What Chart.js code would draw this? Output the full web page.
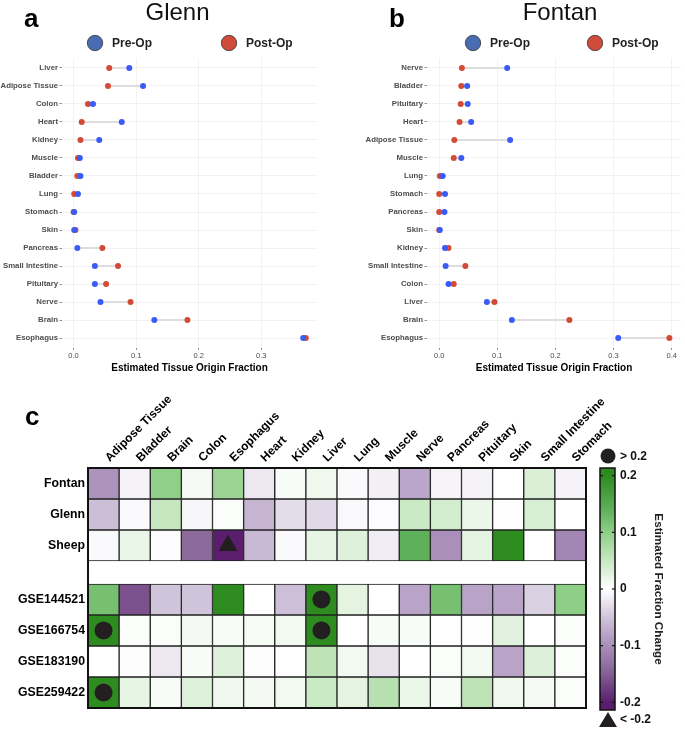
<!DOCTYPE html>
<html>
<head>
<meta charset="utf-8">
<script src="https://cdn.jsdelivr.net/npm/chart.js@4.4.1/dist/chart.umd.min.js"></script>
<style>
  html, body { margin: 0; padding: 0; background: #fff; }
  #wrap { position: relative; width: 685px; height: 729px; }
  canvas { position: absolute; }
</style>
</head>
<body>
<div id="wrap">
  <canvas id="glennChart" width="340" height="380" style="left:0;top:0"></canvas>
  <canvas id="fontanChart" width="345" height="380" style="left:340px;top:0"></canvas>
  <canvas id="heatChart" width="685" height="349" style="left:0;top:380px"></canvas>
</div>
<script>
// ---- data: panel a (Glenn) ----
const glennTissues = ['Liver', 'Adipose Tissue', 'Colon', 'Heart', 'Kidney', 'Muscle', 'Bladder', 'Lung',
  'Stomach', 'Skin', 'Pancreas', 'Small Intestine', 'Pituitary', 'Nerve', 'Brain', 'Esophagus'];
const glennPre  = [0.089, 0.111, 0.031, 0.077, 0.041, 0.010, 0.011, 0.007, 0.001, 0.001, 0.006, 0.034, 0.034, 0.043, 0.129, 0.367];
const glennPost = [0.057, 0.055, 0.023, 0.013, 0.011, 0.007, 0.006, 0.001, 0.000, 0.003, 0.046, 0.071, 0.052, 0.091, 0.182, 0.371];
const glennTicks = [0, 0.1, 0.2, 0.3];

// ---- data: panel b (Fontan) ----
const fontanTissues = ['Nerve', 'Bladder', 'Pituitary', 'Heart', 'Adipose Tissue', 'Muscle', 'Lung', 'Stomach',
  'Pancreas', 'Skin', 'Kidney', 'Small Intestine', 'Colon', 'Liver', 'Brain', 'Esophagus'];
const fontanPre  = [0.117, 0.048, 0.049, 0.055, 0.122, 0.038, 0.006, 0.010, 0.009, 0.001, 0.010, 0.011, 0.016, 0.082, 0.125, 0.308];
const fontanPost = [0.039, 0.038, 0.037, 0.035, 0.026, 0.025, 0.001, 0.000, 0.000, 0.000, 0.016, 0.045, 0.025, 0.095, 0.224, 0.396];
const fontanTicks = [0, 0.1, 0.2, 0.3, 0.4];

// ---- data: panel c (heatmap of fraction change) ----
const heatTissues = ['Adipose Tissue', 'Bladder', 'Brain', 'Colon', 'Esophagus', 'Heart', 'Kidney', 'Liver',
  'Lung', 'Muscle', 'Nerve', 'Pancreas', 'Pituitary', 'Skin', 'Small Intestine', 'Stomach'];
const heatRows = ['Fontan', 'Glenn', 'Sheep', 'GSE144521', 'GSE166754', 'GSE183190', 'GSE259422'];
const fontanChange = [-0.096, -0.010, 0.099, 0.009, 0.088, -0.020, 0.006, 0.013, -0.005, -0.013, -0.078, -0.009, -0.011, 0.000, 0.034, -0.010];
const glennChange  = [-0.056, -0.005, 0.053, -0.008, 0.004, -0.064, -0.030, -0.032, -0.006, -0.003, 0.048, 0.040, 0.018, 0.002, 0.037, 0.000];
const sheepChange  = [-0.005, 0.020, -0.003, -0.140, -0.250, -0.060, -0.005, 0.022, 0.030, -0.015, 0.140, -0.100, 0.025, 0.200, 0.000, -0.110];
const gse144521 = [0.120, -0.160, -0.050, -0.050, 0.200, 0.000, -0.055, 0.250, 0.025, 0.000, -0.080, 0.120, -0.080, -0.080, -0.040, 0.100];
const gse166754 = [0.250, 0.005, 0.005, 0.010, 0.007, 0.008, 0.012, 0.250, 0.000, 0.006, 0.006, 0.000, 0.002, 0.028, 0.000, 0.005];
const gse183190 = [0.000, -0.002, -0.020, 0.007, 0.030, -0.002, 0.000, 0.060, 0.012, -0.025, 0.000, 0.005, 0.012, -0.080, 0.032, 0.005];
const gse259422 = [0.250, 0.022, 0.007, 0.030, 0.014, 0.010, 0.012, 0.048, 0.025, 0.065, 0.018, 0.006, 0.060, 0.014, 0.009, 0.004];
const heatValues = [fontanChange, glennChange, sheepChange, gse144521, gse166754, gse183190, gse259422];
const colorbarTicks = [0.2, 0.1, 0, -0.1, -0.2];

const FONT = "'Liberation Sans', Arial, Helvetica, sans-serif";
Chart.defaults.font.family = FONT;

const BLUE = '#3a5cf5';
const RED = '#d34b36';

// colour scale (green-white-purple)
const colorStops = [
  [-0.2, [91, 30, 111]], [-0.14, [140, 106, 156]], [-0.1, [169, 143, 186]], [-0.05, [208, 196, 218]],
  [0, [255, 255, 255]], [0.05, [200, 232, 195]], [0.1, [143, 206, 135]], [0.14, [95, 176, 90]], [0.2, [46, 139, 32]]
];
function colorFor(v) {
  v = Math.max(-0.2, Math.min(0.2, v));
  for (let i = 0; i < colorStops.length - 1; i++) {
    const [a, ca] = colorStops[i], [b, cb] = colorStops[i + 1];
    if (v >= a && v <= b) {
      const t = (v - a) / (b - a);
      const c = ca.map((x, k) => Math.round(x + (cb[k] - x) * t));
      return `rgb(${c[0]},${c[1]},${c[2]})`;
    }
  }
  return '#fff';
}

// titles, panel letters and legend for the dot plots
function makeDecor(cfg) {
  return {
    id: 'decor',
    afterDraw(chart) {
      const ctx = chart.ctx;
      ctx.save();
      ctx.fillStyle = '#000';
      ctx.textBaseline = 'alphabetic';
      ctx.font = `bold 26px ${FONT}`;
      ctx.textAlign = 'left';
      ctx.fillText(cfg.letter, cfg.letterX, cfg.letterY);
      if (cfg.title) {
        ctx.font = `24px ${FONT}`;
        ctx.textAlign = 'center';
        ctx.fillStyle = '#111';
        ctx.fillText(cfg.title, cfg.titleX, 20);
      }
      if (cfg.legend) {
        cfg.legend.forEach(it => {
          ctx.beginPath();
          ctx.arc(it.x, 43, 7.7, 0, Math.PI * 2);
          ctx.fillStyle = it.fill;
          ctx.fill();
          ctx.lineWidth = 0.8;
          ctx.strokeStyle = '#333';
          ctx.stroke();
          ctx.fillStyle = '#222';
          ctx.font = `bold 12px ${FONT}`;
          ctx.textAlign = 'left';
          ctx.textBaseline = 'middle';
          ctx.fillText(it.text, it.x + 17, 43.5);
        });
      }
      ctx.restore();
    }
  };
}

function dotChart(id, tissues, pre, post, xMin, xMax, xTicks, yWidth, padRight, decor) {
  const segs = tissues.map((t, i) => ({
    type: 'line',
    data: [{ x: pre[i], y: i }, { x: post[i], y: i }],
    borderColor: '#dddddd', borderWidth: 2, pointRadius: 0, order: 3
  }));
  return new Chart(document.getElementById(id), {
    type: 'scatter',
    data: {
      datasets: [
        ...segs,
        { label: 'Post-Op', data: post.map((v, i) => ({ x: v, y: i })), backgroundColor: RED, borderWidth: 0, pointRadius: 3, order: 2 },
        { label: 'Pre-Op', data: pre.map((v, i) => ({ x: v, y: i })), backgroundColor: BLUE, borderWidth: 0, pointRadius: 3, order: 1 }
      ]
    },
    options: {
      responsive: false, animation: false, devicePixelRatio: 1,
      layout: { padding: { top: 58, right: padRight, bottom: 0, left: 0 } },
      plugins: { legend: { display: false }, tooltip: { enabled: false } },
      scales: {
        x: {
          type: 'linear', min: xMin, max: xMax,
          afterBuildTicks: s => { s.ticks = xTicks.map(v => ({ value: v })); },
          ticks: { callback: v => v.toFixed(1), font: { size: 7.5 }, color: '#4d4d4d', padding: 1 },
          grid: { color: '#efefef', lineWidth: 0.8, tickColor: '#777', tickLength: 2 },
          border: { display: false },
          title: { display: true, text: 'Estimated Tissue Origin Fraction', color: '#000',
                   font: { size: 10, weight: 'bold' }, padding: { top: 0, bottom: 6 } },
          afterFit: s => { s.height = 32; }
        },
        y: {
          type: 'linear', reverse: true, min: -0.55, max: tissues.length - 0.45,
          afterBuildTicks: s => { s.ticks = tissues.map((t, i) => ({ value: i })); },
          ticks: { callback: v => tissues[v], font: { size: 7.8, weight: 'bold' }, color: '#4d4d4d', padding: 1.5 },
          grid: { color: '#efefef', lineWidth: 0.8, tickColor: '#777', tickLength: 2.5 },
          border: { display: false },
          afterFit: s => { s.width = yWidth; }
        }
      }
    },
    plugins: [makeDecor(decor)]
  });
}

dotChart('glennChart', glennTissues, glennPre, glennPost, -0.0185, 0.389, glennTicks, 62, 23, {
  letter: 'a', letterX: 24, letterY: 27, title: 'Glenn', titleX: 177.5,
  legend: [{ x: 95, text: 'Pre-Op', fill: '#4a6cb3' }, { x: 229, text: 'Post-Op', fill: '#cf4b3b' }]
});
dotChart('fontanChart', fontanTissues, fontanPre, fontanPost, -0.021, 0.416, fontanTicks, 87, 1, {
  letter: 'b', letterX: 49, letterY: 27, title: 'Fontan', titleX: 220,
  legend: [{ x: 133, text: 'Pre-Op', fill: '#4a6cb3' }, { x: 255, text: 'Post-Op', fill: '#cf4b3b' }]
});

// ---- heatmap ----
const GAP = 0.74;
const rowStart = heatRows.map((r, i) => i < 3 ? i : i + GAP);
const rowMid = rowStart.map(v => v + 0.5);

const bars = heatRows.map((r, ri) => ({
  type: 'bar', label: r,
  data: heatTissues.map(() => [rowStart[ri], rowStart[ri] + 1]),
  backgroundColor: heatValues[ri].map(colorFor),
  borderColor: '#222', borderWidth: 1, borderSkipped: false,
  grouped: false, barPercentage: 1, categoryPercentage: 1, order: 2
}));
const highPts = [], lowPts = [];
heatValues.forEach((vals, ri) => vals.forEach((v, ci) => {
  if (v > 0.2) highPts.push({ x: heatTissues[ci], y: rowMid[ri] });
  if (v < -0.2) lowPts.push({ x: heatTissues[ci], y: rowMid[ri] });
}));

const CB = { x: 600, w: 15, top: 88, bottom: 330, vTop: 0.2135, vBottom: -0.2135 };
const cbY = v => CB.top + (CB.vTop - v) / (CB.vTop - CB.vBottom) * (CB.bottom - CB.top);

const heatDecor = {
  id: 'heatDecor',
  afterDraw(chart) {
    const ctx = chart.ctx, a = chart.chartArea;
    ctx.save();
    // outer frame
    ctx.strokeStyle = '#111';
    ctx.lineWidth = 2;
    ctx.strokeRect(a.left, a.top, a.right - a.left, a.bottom - a.top);
    // panel letter
    ctx.fillStyle = '#000';
    ctx.font = `bold 26px ${FONT}`;
    ctx.textAlign = 'left';
    ctx.textBaseline = 'alphabetic';
    ctx.fillText('c', 25, 45);
    // colour bar
    const g = ctx.createLinearGradient(0, CB.top, 0, CB.bottom);
    colorStops.forEach(([v, c]) => {
      g.addColorStop((CB.vTop - v) / (CB.vTop - CB.vBottom), `rgb(${c[0]},${c[1]},${c[2]})`);
    });
    g.addColorStop(0, colorFor(0.2));
    g.addColorStop(1, colorFor(-0.2));
    ctx.fillStyle = g;
    ctx.fillRect(CB.x, CB.top, CB.w, CB.bottom - CB.top);
    ctx.strokeStyle = '#111';
    ctx.lineWidth = 1.5;
    ctx.strokeRect(CB.x, CB.top, CB.w, CB.bottom - CB.top);
    ctx.font = `bold 12px ${FONT}`;
    ctx.textBaseline = 'middle';
    colorbarTicks.forEach(v => {
      const y = cbY(v);
      ctx.fillStyle = '#111';
      ctx.fillRect(CB.x, y - 0.6, 3, 1.2);
      ctx.fillRect(CB.x + CB.w - 3, y - 0.6, 3, 1.2);
      ctx.fillText(v === 0 ? '0' : String(v), CB.x + 20, y);
    });
    // > 0.2 and < -0.2 keys
    ctx.fillStyle = '#231f20';
    ctx.beginPath();
    ctx.arc(CB.x + 8, 76, 7.5, 0, Math.PI * 2);
    ctx.fill();
    ctx.beginPath();
    ctx.moveTo(CB.x + 8, 332);
    ctx.lineTo(CB.x + 17, 347);
    ctx.lineTo(CB.x - 1, 347);
    ctx.closePath();
    ctx.fill();
    ctx.fillStyle = '#111';
    ctx.fillText('> 0.2', CB.x + 20, 77);
    ctx.fillText('< -0.2', CB.x + 20, 340);
    // colour bar title
    ctx.translate(658, (CB.top + CB.bottom) / 2);
    ctx.rotate(Math.PI / 2);
    ctx.textAlign = 'center';
    ctx.font = `bold 11.7px ${FONT}`;
    ctx.fillStyle = '#222';
    ctx.fillText('Estimated Fraction Change', 0, 0);
    ctx.restore();
  }
};

new Chart(document.getElementById('heatChart'), {
  type: 'bar',
  data: {
    labels: heatTissues,
    datasets: [
      ...bars,
      { type: 'line', label: '> 0.2', data: highPts, showLine: false, pointStyle: 'circle', pointRadius: 9,
        backgroundColor: '#231f20', borderWidth: 0, order: 0 },
      { type: 'line', label: '< -0.2', data: lowPts, showLine: false, pointStyle: 'triangle', pointRadius: 11,
        backgroundColor: '#231f20', borderWidth: 0, order: 0 }
    ]
  },
  options: {
    responsive: false, animation: false, devicePixelRatio: 1,
    layout: { padding: { top: 0, right: 99, bottom: 21, left: 0 } },
    plugins: { legend: { display: false }, tooltip: { enabled: false } },
    scales: {
      x: {
        type: 'category', position: 'top', offset: true,
        ticks: { autoSkip: false, maxRotation: 45, minRotation: 45, padding: 3, labelOffset: 14,
                 font: { size: 12, weight: 'bold' }, color: '#000' },
        grid: { display: false, drawTicks: false },
        border: { display: false },
        afterFit: s => { s.height = 88; }
      },
      y: {
        type: 'linear', reverse: true, min: 0, max: heatRows.length + GAP,
        afterBuildTicks: s => { s.ticks = rowMid.map(v => ({ value: v })); },
        ticks: { callback: (v, i) => heatRows[i], font: { size: 12.3, weight: 'bold' }, color: '#000', padding: 3 },
        grid: { display: false, drawTicks: false },
        border: { display: false },
        afterFit: s => { s.width = 88; }
      }
    }
  },
  plugins: [heatDecor]
});
</script>
</body>
</html>
